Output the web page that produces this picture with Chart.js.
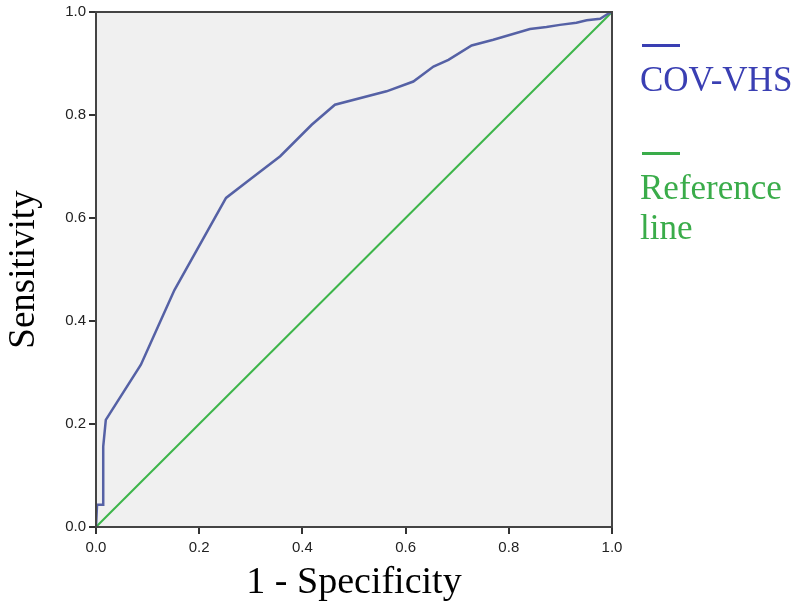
<!DOCTYPE html>
<html>
<head>
<meta charset="utf-8">
<script src="https://cdn.jsdelivr.net/npm/chart.js@4/dist/chart.umd.min.js"></script>
<style>
  body { margin: 0; background: #fff; }
  #wrap { position: relative; width: 800px; height: 606px; }
  .leg { position: absolute; font-family: "Liberation Serif", serif; font-size: 35px; line-height: 40px; }
  .bar { position: absolute; width: 38px; height: 3px; }
</style>
</head>
<body>
<div id="wrap">
  <canvas id="roc" width="800" height="606"></canvas>
  <div class="bar" style="left:642px; top:44px; background:#3a3fb3;"></div>
  <div class="leg" style="left:640px; top:60px; color:#3a3fb3;">COV-VHS</div>
  <div class="bar" style="left:642px; top:152px; background:#3aac4a;"></div>
  <div class="leg" style="left:640px; top:168px; color:#3aac4a;">Reference<br>line</div>
</div>
<script>
// ROC curve
const fpr = [0, 0.002, 0.014, 0.014, 0.019, 0.087, 0.12, 0.152, 0.252, 0.297, 0.357, 0.418, 0.463, 0.563, 0.615, 0.654, 0.683, 0.728, 0.77, 0.841, 0.873, 0.899, 0.931, 0.951, 0.977, 0.993, 1];
const tpr = [0, 0.043, 0.043, 0.156, 0.208, 0.315, 0.389, 0.46, 0.639, 0.674, 0.72, 0.781, 0.82, 0.846, 0.865, 0.894, 0.907, 0.935, 0.946, 0.967, 0.971, 0.975, 0.979, 0.984, 0.987, 0.997, 1];
const refX = [0, 1];
const refY = [0, 1];
const tickVals = [0, 0.2, 0.4, 0.6, 0.8, 1.0];

const toPts = (xs, ys) => xs.map((x, i) => ({ x: x, y: ys[i] }));

// grey plot area with a dark frame
const frame = {
  id: 'frame',
  beforeDraw(c) {
    const a = c.chartArea, ctx = c.ctx;
    ctx.save();
    ctx.fillStyle = '#f0f0f0';
    ctx.fillRect(a.left, a.top, a.right - a.left, a.bottom - a.top);
    ctx.restore();
  },
  afterDraw(c) {
    const a = c.chartArea, ctx = c.ctx;
    ctx.save();
    ctx.strokeStyle = '#444';
    ctx.lineWidth = 2;
    ctx.strokeRect(a.left, a.top, a.right - a.left, a.bottom - a.top);
    ctx.restore();
  }
};

new Chart(document.getElementById('roc').getContext('2d'), {
  type: 'scatter',
  data: {
    datasets: [
      {
        label: 'COV-VHS',
        data: toPts(fpr, tpr),
        showLine: true,
        borderColor: '#5561a5',
        borderWidth: 2.5,
        pointRadius: 0,
        tension: 0
      },
      {
        label: 'Reference line',
        data: toPts(refX, refY),
        showLine: true,
        borderColor: '#3db54a',
        borderWidth: 2,
        pointRadius: 0
      }
    ]
  },
  options: {
    responsive: false,
    animation: false,
    layout: { padding: { top: 12, right: 188, bottom: 0, left: 0 } },
    plugins: { legend: { display: false }, tooltip: { enabled: false } },
    scales: {
      x: {
        type: 'linear', min: 0, max: 1,
        afterBuildTicks: (s) => { s.ticks = tickVals.map(v => ({ value: v })); },
        afterFit: (s) => { s.height = 79; },
        grid: { drawOnChartArea: false, drawTicks: true, tickLength: 7, color: '#333', lineWidth: 2 },
        border: { display: true, color: '#333', width: 2 },
        ticks: {
          padding: 5, color: '#222', maxRotation: 0,
          font: { family: 'Liberation Sans, Arial', size: 15 },
          callback: (v) => v.toFixed(1)
        },
        title: {
          display: true, text: '1 - Specificity', color: '#000',
          font: { family: 'Liberation Serif, serif', size: 38 },
          padding: { top: 0, bottom: 0 }
        }
      },
      y: {
        type: 'linear', min: 0, max: 1,
        afterBuildTicks: (s) => { s.ticks = tickVals.map(v => ({ value: v })); },
        afterFit: (s) => { s.width = 96; },
        grid: { drawOnChartArea: false, drawTicks: true, tickLength: 7, color: '#333', lineWidth: 2 },
        border: { display: true, color: '#333', width: 2 },
        ticks: {
          padding: 3, color: '#222',
          font: { family: 'Liberation Sans, Arial', size: 15 },
          callback: (v) => v.toFixed(1)
        },
        title: {
          display: true, text: 'Sensitivity', color: '#000',
          font: { family: 'Liberation Serif, serif', size: 37 },
          padding: { top: 2, bottom: 0 }
        }
      }
    }
  },
  plugins: [frame]
});
</script>
</body>
</html>
